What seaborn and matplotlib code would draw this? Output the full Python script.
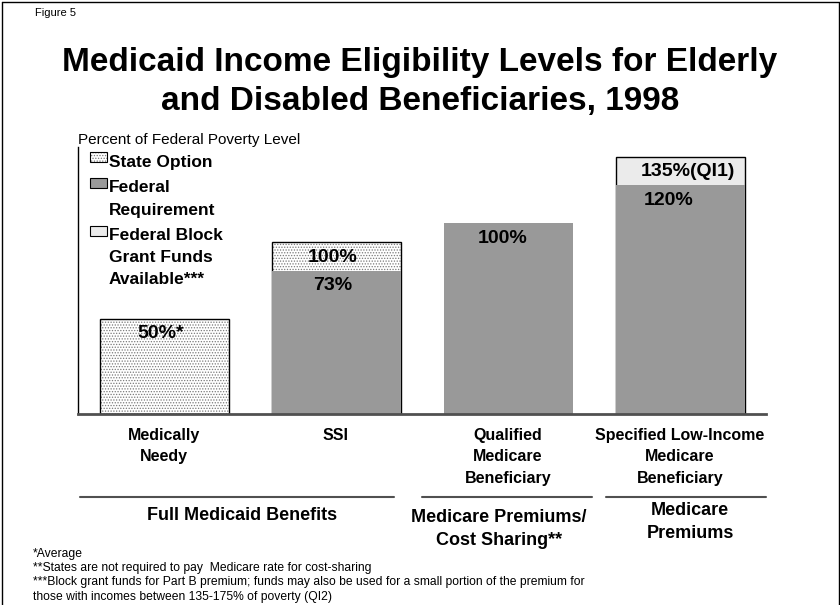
import matplotlib
matplotlib.use("Agg")
import matplotlib.pyplot as plt
import seaborn as sns
import pandas as pd
from matplotlib.patches import Rectangle
from matplotlib.lines import Line2D

# ---------------- data ----------------
categories = ["Medically\nNeedy", "SSI", "Qualified\nMedicare\nBeneficiary",
              "Specified Low-Income\nMedicare\nBeneficiary"]
federal_requirement = [0, 75, 100, 120]        # heights as drawn
state_option_top = [50, 90, 0, 0]              # top of state-option segment
block_grant_top = [0, 0, 0, 135]               # top of block-grant segment
federal_labels = ["", "73%", "100%", "120%"]
state_labels = ["50%*", "100%", "", ""]
block_labels = ["", "", "", "135%(QI1)"]
group_labels = ["Full Medicaid Benefits", "Medicare Premiums/\nCost Sharing**", "Medicare\nPremiums"]
legend_labels = ["State Option", "Federal\nRequirement", "Federal Block\nGrant Funds\nAvailable***"]
footnotes = [
    "*Average",
    "**States are not required to pay  Medicare rate for cost-sharing",
    "***Block grant funds for Part B premium; funds may also be used for a small portion of the premium for",
    "those with incomes between 135-175% of poverty (QI2)",
]

df = pd.DataFrame({
    "category": categories,
    "federal": federal_requirement,
    "state": state_option_top,
    "block": block_grant_top,
})

# ---------------- style ----------------
sns.set_theme(style="white")
plt.rcParams["font.family"] = ["Liberation Sans", "DejaVu Sans"]
plt.rcParams["text.color"] = "black"
plt.rcParams["xtick.color"] = "black"
plt.rcParams["hatch.linewidth"] = 0.6
REG = ["Liberation Sans", "DejaVu Sans"]

W, H = 840, 605
fig = plt.figure(figsize=(W / 100, H / 100), dpi=100)
fx = lambda px: px / W
fy = lambda py: 1 - py / H

ax = fig.add_axes([fx(78), fy(414), fx(766) - fx(78), fy(147) - fy(414)])

GRAY = "#999999"
LIGHT = "#ebebeb"
BAR_W = 0.75


def drop_zero(before):
    for p in ax.patches[before:]:
        if p.get_height() == 0:
            p.set_visible(False)


n = len(ax.patches)
sns.barplot(data=df, x="category", y="state", order=categories, color="white",
            edgecolor="#7a7a7a", linewidth=0, hatch="......", width=BAR_W,
            saturation=1, ax=ax)
drop_zero(n)
for p in ax.patches[n:]:
    p.set_facecolor("white")
n = len(ax.patches)
sns.barplot(data=df, x="category", y="state", order=categories, fill=False,
            edgecolor="black", linewidth=1.0, width=BAR_W, ax=ax)
drop_zero(n)
n = len(ax.patches)
sns.barplot(data=df, x="category", y="block", order=categories, color=LIGHT,
            edgecolor="black", linewidth=1.0, width=BAR_W, saturation=1, ax=ax)
drop_zero(n)
n = len(ax.patches)
sns.barplot(data=df, x="category", y="federal", order=categories, color=GRAY,
            linewidth=0, width=BAR_W, saturation=1, ax=ax)
drop_zero(n)

ax.set_xlim(-0.5, 3.5)
ax.set_ylim(0, 140)
ax.set_xlabel("")
ax.set_ylabel("")
ax.set_yticks([])
ax.tick_params(axis="x", length=0, pad=10)
for s in ["top", "right"]:
    ax.spines[s].set_visible(False)
ax.spines["left"].set_color("black")
ax.spines["left"].set_linewidth(1.0)
ax.spines["bottom"].set_color("#505050")
ax.spines["bottom"].set_linewidth(2.0)
ax.spines["bottom"].set_zorder(5)

for lbl in ax.get_xticklabels():
    lbl.set_fontfamily(REG)
    lbl.set_fontweight("bold")
    lbl.set_fontsize(11.5)
    lbl.set_color("black")
    lbl.set_linespacing(1.55)

# value labels
x_off = [-3, -3, -5, -11]
for i in range(len(categories)):
    for top, text, dx in [(state_option_top[i], state_labels[i], x_off[i]),
                          (federal_requirement[i], federal_labels[i], x_off[i]),
                          (block_grant_top[i], block_labels[i], 8)]:
        if text:
            ax.annotate(text, (i, top), xytext=(dx, -15), textcoords="offset pixels",
                        ha="center", va="center", fontsize=14, fontweight="bold",
                        family=REG, color="black", zorder=6)

# axis title
fig.text(fx(78), fy(140), "Percent of Federal Poverty Level", fontsize=11,
         family=REG, ha="left", va="center", color="black")

# legend (manual)
leg_y = [162, 188, 236]
leg_fc = ["white", GRAY, LIGHT]
leg_hatch = ["......", None, None]
for y, fc, hatch, text in zip(leg_y, leg_fc, leg_hatch, legend_labels):
    x0, y0, w, h = fx(90), fy(y), fx(17), fy(y - 10) - fy(y)
    if hatch:
        fig.add_artist(Rectangle((x0, y0), w, h, transform=fig.transFigure,
                                 facecolor=fc, edgecolor="#7a7a7a", linewidth=0,
                                 hatch=hatch))
        fig.add_artist(Rectangle((x0, y0), w, h, transform=fig.transFigure,
                                 facecolor="none", edgecolor="black", linewidth=0.8))
    else:
        fig.add_artist(Rectangle((x0, y0), w, h, transform=fig.transFigure,
                                 facecolor=fc, edgecolor="black", linewidth=0.8))
    for k, line in enumerate(text.split("\n")):
        fig.text(fx(109), fy(y + 22 * k), line, fontsize=12.5, fontweight="bold",
                 family=REG, ha="left", va="center", color="black")

# title
fig.text(fx(35), fy(13), "Figure 5", fontsize=8, family=REG, ha="left", va="center",
         color="black")
fig.text(fx(420), fy(62), "Medicaid Income Eligibility Levels for Elderly", fontsize=24,
         fontweight="bold", family=REG, ha="center", va="center", color="black")
fig.text(fx(420), fy(101), "and Disabled Beneficiaries, 1998", fontsize=24,
         fontweight="bold", family=REG, ha="center", va="center", color="black")

# group rules and labels
for x0, x1 in [(80, 394), (422, 592), (606, 766)]:
    fig.add_artist(Line2D([fx(x0), fx(x1)], [fy(497), fy(497)], color="#505050",
                          linewidth=1.5, transform=fig.transFigure))
for (xc, yc), text in zip([(242, 516), (499, 529), (690, 522)], group_labels):
    fig.text(fx(xc), fy(yc), text, fontsize=13, fontweight="bold", family=REG,
             ha="center", va="center", linespacing=1.4, color="black")

# footnotes
for y, text in zip([554, 568, 582, 597], footnotes):
    fig.text(fx(33), fy(y), text, fontsize=8.7, family=REG, ha="left", va="center",
             color="black")

# figure border (left, top, right)
for xs, ys in [([fx(1.5), fx(1.5)], [0, fy(1.5)]),
               ([fx(1.5), fx(838.5)], [fy(1.5), fy(1.5)]),
               ([fx(838.5), fx(838.5)], [fy(1.5), 0])]:
    fig.add_artist(Line2D(xs, ys, color="black", linewidth=1.0, transform=fig.transFigure))

fig.savefig("out.png", dpi=100)
